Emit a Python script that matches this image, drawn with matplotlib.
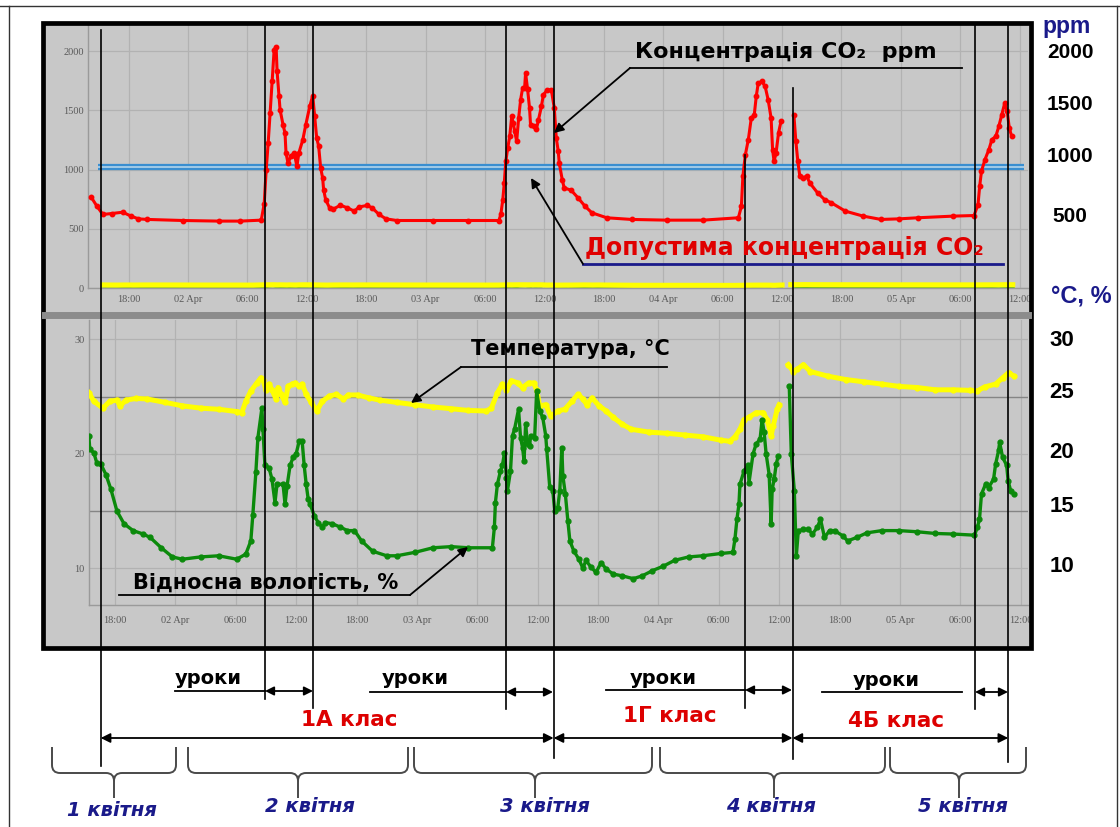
import numpy as np
import matplotlib
matplotlib.use("Agg")
import matplotlib.pyplot as plt
from matplotlib.path import Path
from matplotlib.patches import PathPatch, Rectangle

nan = np.nan
# ---------------- data ----------------
# hours counted from 00:00, 1 April
co2_hours = [14.2, 14.8, 15.4, 16.3, 17.4, 18.25, 19.0, 19.9, 23.5, 27.1, 29.3, 31.4, 31.7, 31.9, 32.1, 32.3,
             32.5, 32.7, 32.9, 33.0, 33.2, 33.3, 33.6, 33.8, 33.9, 34.1, 34.4, 34.7, 34.8, 35.0, 35.2, 35.6,
             35.9, 36.3, 36.6, 36.8, 37.0, 37.2, 37.4, 37.6, 37.7, 37.9, 38.3, 38.6, 39.4, 40.1, 40.8, 41.3,
             42.1, 42.6, 43.3, 44.0, 45.1, 48.7, 52.3, 55.4, 55.6, 55.8, 55.95, 56.1, 56.3, 56.5, 56.7, 56.85,
             57.0, 57.2, 57.4, 57.6, 57.8, 58.0, 58.1, 58.3, 58.5, 58.6, 59.0, 59.2, 59.4, 59.7, 59.9, 60.3,
             60.7, 61.0, 61.2, 61.4, 61.5, 61.8, 62.0, 62.7, 63.4, 64.1, 64.8, 66.3, 68.8, 72.4, 76.0, 79.6,
             79.9, 80.05, 80.3, 80.6, 80.9, 81.2, 81.4, 81.6, 81.97, 82.3, 82.6, 82.9, 83.05, 83.2, 83.4, 83.65,
             83.9, 84.4, 85.2, 85.4, 85.6, 85.8, 86.1, 86.5, 86.8, 87.6, 88.3, 89.0, 90.4, 92.2, 94.0, 95.85,
             97.7, 101.3, 103.4, 103.8, 103.97, 104.15, 104.5, 104.9, 105.2, 105.6, 105.9, 106.2, 106.5, 106.75,
             106.96, 107.2]
co2_ppm = [770, 691, 621, 629, 640, 607, 584, 579, 570, 565, 565, 573, 713, 1000, 1225, 1478,
           1744, 2011, 2039, 1829, 1618, 1506, 1379, 1309, 1140, 1056, 1112, 1140, 1112, 1028, 1140, 1253,
           1379, 1534, 1624, 1449, 1267, 1197, 1014, 930, 831, 747, 677, 663, 699, 677, 649, 685,
           697, 677, 621, 584, 570, 570, 570, 570, 621, 747, 888, 1070, 1183, 1281, 1449, 1393,
           1323, 1239, 1435, 1590, 1688, 1688, 1815, 1680, 1520, 1379, 1365, 1343, 1421, 1534, 1632, 1674,
           1674, 1520, 1267, 1155, 1056, 916, 845, 826, 761, 691, 635, 593, 579, 573, 573, 593,
           691, 944, 1126, 1253, 1435, 1463, 1618, 1730, 1744, 1702, 1590, 1435, 1169, 1070, 1140, 1309,
           1407, nan, 1463, 1239, 1070, 944, 930, 944, 888, 803, 747, 719, 649, 607, 579, 584,
           593, 607, 612, 705, 860, 986, 1084, 1169, 1253, 1281, 1365, 1463, 1562, 1492,
           1351, 1281]

temp_hours = [15.4, 15.9, 16.8, 17.5, 18.2, 18.5, 19.1, 20.1, 21.2, 23.0, 24.7, 26.5, 28.3, 30.1, 30.6, 31.0,
              31.5, 32.1, 32.5, 32.7, 33.0, 33.3, 33.6, 34.0, 34.2, 34.5, 34.9, 35.2, 35.6, 35.9, 36.3, 36.6,
              37.0, 37.5, 38.05, 38.6, 39.3, 40.0, 40.7, 41.2, 42.1, 43.2, 44.3, 46.0, 47.8, 49.6, 51.4, 53.1,
              54.9, 55.4, 56.0, 56.5, 56.9, 57.4, 58.0, 58.5, 59.1, 59.6, 59.9, 60.2, 60.8, 61.3, 62.0, 62.7,
              63.4, 64.0, 64.5, 64.9, 65.4, 66.1, 66.8, 67.5, 68.4, 69.3, 71.1, 72.9, 74.6, 76.4, 78.2, 79.1,
              79.6, 80.1, 80.5, 81.0, 81.7, 82.4, 82.8, 83.2, 83.4, 83.8, 84.0, 84.4, 84.9, 85.4, 85.8, 86.4,
              87.1, 88.8, 90.6, 92.4, 94.2, 95.9, 97.7, 99.5, 101.3, 103.0, 103.7, 104.4, 105.5, 106.2, 106.8,
              107.3]
temp_c = [25.35, 24.6, 24.0, 24.6, 24.7, 24.2, 24.7, 24.85, 24.8, 24.5, 24.2, 24.0, 23.9, 23.7, 23.6, 24.6,
          25.5, 26.2, 26.65, 26.5, 25.6, 26.1, 25.6, 24.8, 25.8, 25.2, 24.5, 25.9, 26.1, 26.2, 25.9, 26.1,
          25.2, 24.5, 23.75, 24.6, 25.05, 25.2, 24.8, 25.15, 25.15, 24.9, 24.7, 24.5, 24.3, 24.1, 23.95, 23.8,
          23.75, 24.0, 25.35, 26.1, 25.6, 26.4, 26.2, 25.8, 26.2, 26.2, 25.6, 24.2, 24.3, 23.3, 23.75, 23.9,
          24.6, 25.2, 24.8, 24.3, 24.9, 24.2, 23.75, 23.2, 22.6, 22.15, 21.9, 21.8, 21.65, 21.5, 21.2, 21.1,
          21.5, 22.15, 23.0, 23.2, 23.6, 23.6, 23.0, 21.6, 22.45, 23.9, 24.3, nan, 27.8, 27.2, 27.4, 27.8,
          27.2, 26.8, 26.5, 26.3, 26.1, 25.9, 25.8, 25.6, 25.6, 25.55, 25.5, 25.85, 26.1, 26.65, 27.1,
          26.8]

hum_hours = [15.4, 15.5, 15.9, 16.2, 16.6, 17.1, 17.6, 18.2, 18.9, 19.8, 20.8, 21.5, 22.6, 23.7, 24.7, 26.5,
             28.3, 30.1, 31.0, 31.5, 31.7, 32.0, 32.2, 32.6, 32.7, 32.9, 33.3, 33.6, 33.9, 34.1, 34.7, 34.9,
             35.1, 35.4, 35.7, 36.0, 36.3, 36.6, 36.8, 37.0, 37.2, 37.4, 37.8, 38.2, 38.6, 38.9, 39.6, 40.4,
             41.1, 41.8, 42.5, 43.6, 45.0, 46.0, 47.8, 49.6, 51.4, 53.1, 55.5, 55.7, 55.8, 56.0, 56.3, 56.5,
             56.7, 56.9, 57.0, 57.3, 57.5, 57.7, 58.1, 58.3, 58.5, 58.65, 58.8, 59.0, 59.2, 59.3, 59.7, 59.9,
             60.2, 60.5, 60.8, 60.9, 61.2, 61.5, 61.7, 62.0, 62.2, 62.4, 62.5, 62.75, 63.0, 63.2, 63.6, 64.1,
             64.5, 64.8, 65.3, 65.8, 66.3, 66.8, 67.5, 68.4, 69.5, 70.4, 71.4, 72.5, 73.6, 75.0, 76.4, 78.2,
             79.4, 79.6, 79.8, 80.0, 80.1, 80.5, 80.9, 81.0, 81.4, 81.7, 82.1, 82.3, 82.5, 82.7, 83.0, 83.2,
             83.3, 83.5, 83.7, 83.9, 84.4, 85.0, 85.2, 85.5, 85.7, 85.9, 86.4, 86.9, 87.3, 87.8, 88.1, 88.5,
             89.0, 89.5, 90.3, 90.8, 91.7, 92.7, 94.2, 95.9, 97.7, 99.5, 101.3, 103.4, 103.7, 103.9, 104.1,
             104.5, 104.8, 105.3, 105.5, 105.8, 105.9, 106.2, 106.6, 106.75, 107.0, 107.3]
hum_pct = [21.6, 20.4, 20.1, 19.2, 19.1, 18.2, 16.9, 15.0, 13.9, 13.3, 13.0, 12.7, 11.8, 11.0, 10.8, 11.0,
           11.1, 10.8, 11.25, 12.4, 14.7, 18.4, 21.4, 24.0, 22.15, 19.0, 18.8, 17.8, 15.75, 17.35, 17.35, 15.6,
           17.2, 19.0, 19.7, 20.0, 21.1, 21.1, 19.0, 17.35, 16.05, 15.6, 14.6, 14.0, 13.6, 14.0, 13.9, 13.6,
           13.3, 13.3, 12.4, 11.5, 11.1, 11.1, 11.4, 11.8, 11.9, 11.8, 11.8, 13.6, 15.75, 17.35, 18.5, 19.0,
           20.1, 17.9, 16.8, 18.5, 21.6, 22.15, 23.9, 21.4, 20.55, 19.4, 22.6, 20.85, 20.7, 21.6, 21.4, 25.5,
           23.75, 23.2, 21.6, 20.4, 17.1, 16.8, 15.0, 15.3, 16.8, 20.55, 18.1, 16.5, 14.15, 12.4, 11.5, 10.8,
           10.0, 10.7, 10.1, 9.65, 10.5, 9.95, 9.5, 9.35, 9.1, 9.35, 9.8, 10.2, 10.7, 11.0, 11.1, 11.3,
           11.4, 12.55, 14.3, 15.6, 17.35, 18.5, 19.0, 17.5, 20.0, 20.85, 21.3, 23.0, 21.9, 20.0, 18.2, 13.9,
           16.9, 17.8, 19.1, 19.8, nan, 25.9, 20.0, 16.8, 11.1, 13.3, 13.4, 13.4, 13.0, 13.6, 14.3, 12.7,
           13.3, 13.3, 12.85, 12.4, 12.7, 13.1, 13.3, 13.3, 13.2, 13.05, 13.0, 12.9, 13.6, 14.3, 16.5,
           17.35, 17.05, 17.8, 19.1, 20.3, 21.0, 19.7, 19.0, 17.6, 16.8, 16.5]

x_tick_hours = [18, 24, 30, 36, 42, 48, 54, 60, 66, 72, 78, 84, 90, 96, 102, 108]
x_tick_labels = ["18:00", "02 Apr", "06:00", "12:00", "18:00", "03 Apr", "06:00", "12:00",
                 "18:00", "04 Apr", "06:00", "12:00", "18:00", "05 Apr", "06:00", "12:00"]
co2_ticks = [0, 500, 1000, 1500, 2000]
th_ticks = [10, 20, 30]
th_guides = [15, 25]
co2_limit = 1020
right_ppm_labels = ["2000", "1500", "1000", "500"]
right_th_labels = ["30", "25", "20", "15", "10"]
lesson_label = "уроки"
class_labels = ["1А клас", "1Г клас", "4Б клас"]
day_labels = ["1 квітня", "2 квітня", "3 квітня", "4 квітня", "5 квітня"]

# ---------------- figure ----------------
W, H = 1120, 827
fig = plt.figure(figsize=(W / 100, H / 100), dpi=100)
fig.patch.set_facecolor("white")

def px_rect(x0, y0, x1, y1):
    return [x0 / W, 1 - y1 / H, (x1 - x0) / W, (y1 - y0) / H]

BG = "#c8c8c8"
GRID = "#b2b2b2"
SANS = ["Liberation Sans", "DejaVu Sans"]
WIDE = ["DejaVu Sans"]
SERIF = ["Liberation Serif", "DejaVu Serif"]

ax_bg = fig.add_axes([0, 0, 1, 1], zorder=0)
ax_bg.set_xlim(0, W); ax_bg.set_ylim(H, 0); ax_bg.axis("off")
ax_bg.add_patch(Rectangle((42, 23), 989, 625, facecolor=BG, edgecolor="none"))

def style_axes(ax):
    ax.set_facecolor("none")
    for s in ("top", "right"):
        ax.spines[s].set_visible(False)
    for s in ("left", "bottom"):
        ax.spines[s].set_color("#9a9a9a")
        ax.spines[s].set_linewidth(1.0)
    ax.tick_params(length=0, labelsize=7.5, labelcolor="#5a5a5a")
    ax.grid(True, color=GRID, lw=0.9)
    ax.set_axisbelow(True)
    ax.set_xticks(x_tick_hours)
    ax.set_xticklabels(x_tick_labels, family=SERIF)

# upper panel: CO2
ax1 = fig.add_axes(px_rect(88, 25, 1028, 288), zorder=1)
style_axes(ax1)
ax1.set_xlim(13.9, 108.85)
ax1.set_ylim(0, 2221)
ax1.set_yticks(co2_ticks)
ax1.set_yticklabels([str(v) for v in co2_ticks], family=SERIF)
ax1.tick_params(axis="x", pad=5)
ax1.tick_params(axis="y", pad=3)
ax1.hlines(co2_limit, 14.9, 108.45, color="#3a8ed0", lw=4.5, zorder=3)
ax1.hlines(co2_limit, 14.9, 108.45, color="#a9cfe9", lw=1.3, zorder=3)
ax1.plot(hum_hours, hum_pct, color="#139a13", lw=3, zorder=2)
ax1.plot(temp_hours, temp_c, color="#ffff00", lw=3.8, zorder=2)
ax1.plot(co2_hours, co2_ppm, color="#ff0000", lw=2.2, marker="o", ms=3.2, mec="#ff0000", zorder=4)

# lower panel: temperature and humidity
ax2 = fig.add_axes(px_rect(89, 320, 1028, 605), zorder=1)
style_axes(ax2)
ax2.set_xlim(15.42, 108.72)
ax2.set_ylim(6.8, 31.7)
ax2.set_yticks(th_ticks)
ax2.set_yticklabels([str(v) for v in th_ticks], family=SERIF)
ax2.tick_params(axis="x", pad=8)
ax2.tick_params(axis="y", pad=3)
for g in th_guides:
    ax2.axhline(g, color="#858585", lw=1.0, zorder=1)
ax2.plot(temp_hours, temp_c, color="#ffff00", lw=3.6, marker="o", ms=3.5, mec="#ffff00", zorder=3)
ax2.plot(hum_hours, hum_pct, color="#0b8a0b", lw=2.4, marker="o", ms=3.5, mec="#0b8a0b", zorder=4)

# ---------------- overlay (pixel coordinates) ----------------
ov = fig.add_axes([0, 0, 1, 1], zorder=5)
ov.set_xlim(0, W); ov.set_ylim(H, 0); ov.axis("off"); ov.patch.set_alpha(0)

# page border
ov.plot([0, W], [6, 6], color="#333333", lw=1.0)
ov.plot([9, 9], [6, H], color="#333333", lw=1.0)
ov.plot([1117, 1117], [6, H], color="#333333", lw=1.0)

# frames
ov.add_patch(Rectangle((42.5, 23), 988, 625, facecolor="none", edgecolor="black", lw=3.4))
ov.plot([45, 1028], [314.5, 314.5], color="#8c8c8c", lw=5)

# vertical marker lines
vlines = [(100.7, 30, 766), (265.4, 25, 699), (313.2, 25, 708), (506, 25, 709), (553.6, 25, 758),
          (745, 155, 708), (792.5, 88, 759), (975, 25, 709), (1008.2, 25, 762)]
for x, y0, y1 in vlines:
    ov.plot([x, x], [y0, y1], color="black", lw=1.2)

def arrow(p_from, p_to, style="-|>", color="black", lw=1.3, ms=14):
    ov.annotate("", xy=p_to, xytext=p_from,
                arrowprops=dict(arrowstyle=style, color=color, lw=lw, mutation_scale=ms,
                                shrinkA=0, shrinkB=0))

def label(x, y, s, size, color="black", italic=False):
    ov.text(x, y, s, family=WIDE, weight="bold", fontsize=size, ha="center", va="center",
            color=color, style="italic" if italic else "normal")

# CO2 label
label(786, 52, "Концентрація CO₂  ppm", 16)
ov.plot([630, 962], [68, 68], color="black", lw=1.3)
arrow((630, 68), (554, 133))

# limit label
label(784, 248, "Допустима концентрація CO₂", 17, color="#e00000")
ov.plot([583, 1003], [264, 264], color="#1a1a8a", lw=2)
arrow((583, 264), (531, 178))

# temperature label
label(570, 349, "Температура, °C", 15)
ov.plot([461, 667], [367, 367], color="black", lw=1.3)
arrow((461, 367), (411, 403))

# humidity label
label(266, 583, "Відносна вологість, %", 15)
ov.plot([119, 410], [595, 595], color="black", lw=1.3)
arrow((410, 595), (468, 547))

# right-hand scale labels
ov.text(1067, 27, "ppm", family=SANS, weight="bold", fontsize=16.5, ha="center", va="center", color="#1a1a8a")
ov.text(1081, 296, "°C, %", family=SANS, weight="bold", fontsize=17, ha="center", va="center", color="#1a1a8a")
for lab, y in zip(right_ppm_labels, [52, 104, 157, 217]):
    ov.text(1070, y, lab, family=SANS, weight="bold", fontsize=15, ha="center", va="center", color="black")
for lab, y in zip(right_th_labels, [340, 392, 452, 507, 567]):
    ov.text(1062, y, lab, family=SANS, weight="bold", fontsize=16, ha="center", va="center", color="black")

# lessons
lessons = [((208, 679), (175, 265, 691), (265, 313)),
           ((415, 679), (370, 506, 692), (506, 553)),
           ((663, 678), (606, 745, 690), (745, 792)),
           ((886, 680), (822, 962, 692), (975, 1008))]
for (tx, ty), (ux0, ux1, uy), (ax0, ax1_) in lessons:
    label(tx, ty, lesson_label, 14)
    ov.plot([ux0, ux1], [uy, uy], color="black", lw=1.3)
    arrow((ax0, uy), (ax1_, uy), style="<|-|>", ms=13)

# classes
for lab, (tx, ty), (x0, x1) in zip(class_labels, [(349, 720), (670, 716), (896, 721)],
                                    [(100.7, 553.6), (553.6, 792.5), (792.5, 1008.2)]):
    label(tx, ty, lab, 15.5, color="#dd0000")
    arrow((x0, 738), (x1, 738), style="<|-|>", ms=14)

# braces
def brace(x0, x1, xc, ytop=747, ybar=773, ytip=798, r=8):
    verts = [(x0, ytop), (x0, ybar - r), (x0, ybar), (x0 + r, ybar), (xc - r, ybar), (xc, ybar),
             (xc, ybar + r), (xc, ytip),
             (xc, ybar + r), (xc, ybar), (xc + r, ybar), (x1 - r, ybar), (x1, ybar), (x1, ybar - r), (x1, ytop)]
    codes = [Path.MOVETO, Path.LINETO, Path.CURVE3, Path.CURVE3, Path.LINETO, Path.CURVE3, Path.CURVE3,
             Path.LINETO,
             Path.MOVETO, Path.CURVE3, Path.CURVE3, Path.LINETO, Path.CURVE3, Path.CURVE3, Path.LINETO]
    ov.add_patch(PathPatch(Path(verts, codes), facecolor="none", edgecolor="#4a4a4a", lw=1.4))

braces = [(52, 176, 114), (188, 408, 298), (414, 652, 535), (660, 885, 774), (890, 1026, 959)]
for b in braces:
    brace(*b)
for lab, (tx, ty) in zip(day_labels, [(112, 810), (310, 806), (545, 806), (771, 806), (963, 806)]):
    label(tx, ty, lab, 14, color="#1a1a8a", italic=True)

fig.savefig("out.png", dpi=100)
